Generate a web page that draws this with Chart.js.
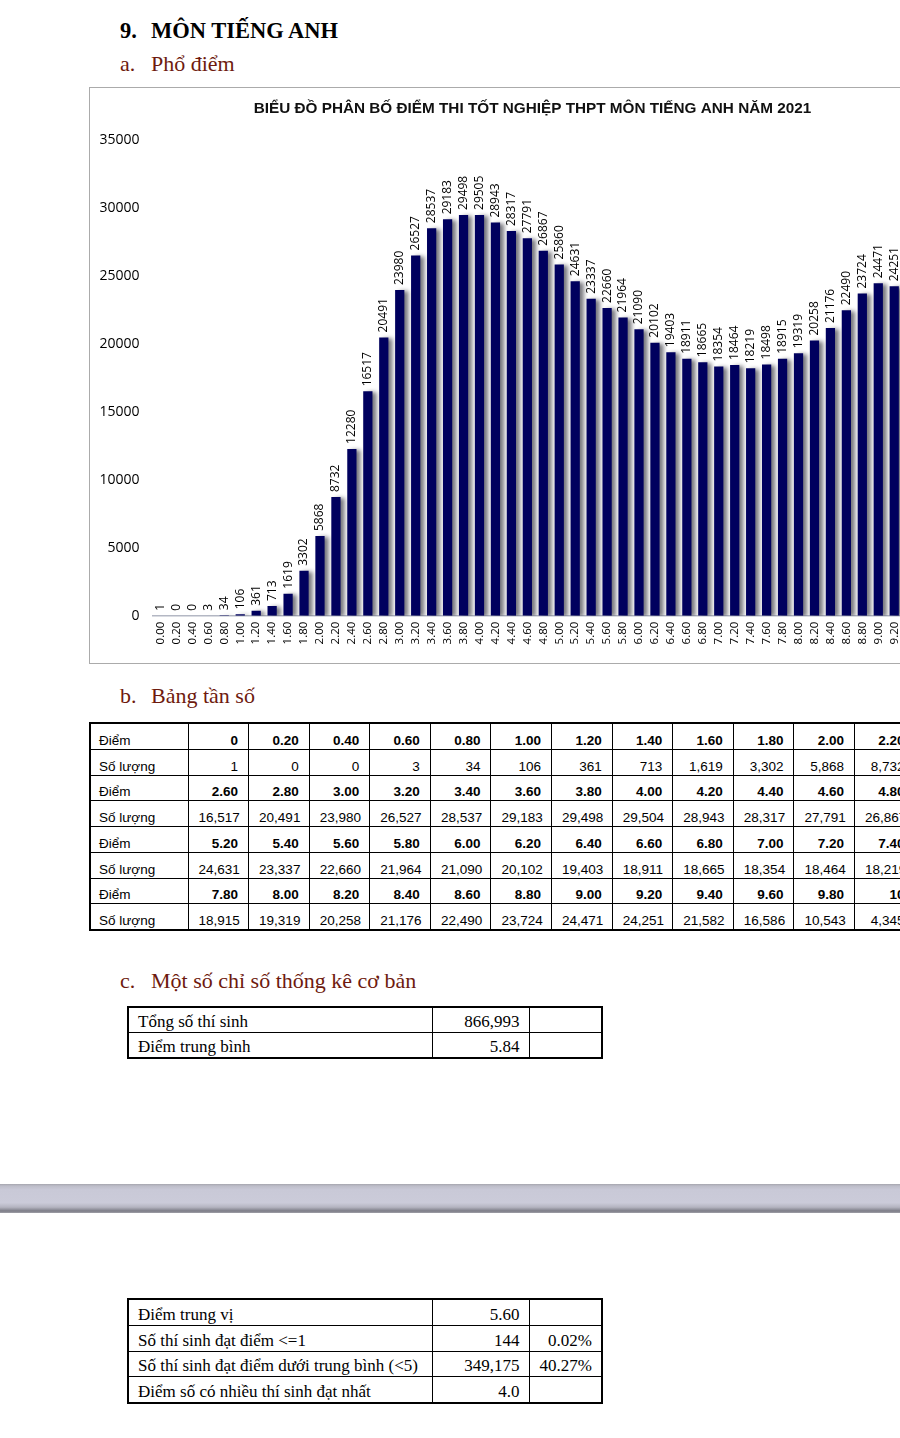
<!DOCTYPE html>
<html lang="vi">
<head>
<meta charset="utf-8">
<title>Môn Tiếng Anh - Phổ điểm 2021</title>
<script src="https://cdn.jsdelivr.net/npm/chart.js@4.4.1/dist/chart.umd.min.js"></script>
<style>
html, body { margin: 0; padding: 0; background: #fff; }
body {
    width: 900px; height: 1438px; overflow: hidden; position: relative;
    font-family: "Liberation Serif", "Times New Roman", serif;
}
.heading {
    position: absolute; left: 120px; margin: 0; white-space: nowrap;
    font-size: 22px; line-height: 26px; font-weight: normal; color: #6e1a0e;
}
.heading span { display: inline-block; width: 31px; }
.heading.main { top: 18px; font-size: 22.5px; font-weight: bold; color: #000; }
.chart-box {
    position: absolute; left: 89px; top: 87px; width: 892px; height: 577px;
    border: 1.5px solid #ababab; box-sizing: border-box; background: #fff;
}
.freq {
    position: absolute; left: 89px; top: 722px; width: 886px;
    border-collapse: collapse; table-layout: fixed; border: 2px solid #000;
    font-family: "Liberation Sans", Arial, sans-serif; font-size: 13.5px; color: #000;
}
.freq td {
    border: 1px solid #000; padding: 0 10px 0 10px; height: 24.75px;
    vertical-align: bottom; line-height: 17px; text-align: right; white-space: nowrap; overflow: hidden;
}
.freq td.lbl { text-align: left; padding-left: 8px; }
.freq tr.score td { font-weight: bold; }
.freq tr.score td.lbl { font-weight: normal; }
.stats {
    position: absolute; left: 127px; width: 474px;
    border-collapse: collapse; table-layout: fixed; border: 2px solid #000;
    font-family: "Liberation Serif", "Times New Roman", serif; font-size: 17px; color: #000;
}
.stats td {
    border: 1px solid #000; padding: 0 9px 0 9px; height: 24.8px;
    vertical-align: bottom; line-height: 20px; text-align: right; white-space: nowrap;
}
#statsTop td { height: 24.1px; }
.stats td:first-child { text-align: left; }
.band {
    position: absolute; left: 0; top: 1184px; width: 900px; height: 29px;
    background: linear-gradient(to bottom, #a6a6ae 0, #bdbdc9 2px, #c9c9d7 20%, #cbcbd9 65%, #b4b4c0 80%, #7c7c86 93%, #a0a0a8 100%);
}
</style>
</head>
<body>

<div class="heading main"><span>9.</span>MÔN TIẾNG ANH</div>
<div class="heading" style="top:51px"><span>a.</span>Phổ điểm</div>

<div class="chart-box"><canvas id="scoreChart"></canvas></div>

<div class="heading" style="top:683px"><span>b.</span>Bảng tần số</div>
<table class="freq" id="freqTable">
    <colgroup><col style="width:98px"></colgroup>
    <tbody></tbody>
</table>

<div class="heading" style="top:968px"><span>c.</span>Một số chỉ số thống kê cơ bản</div>
<table class="stats" id="statsTop" style="top:1006px">
    <colgroup><col style="width:304px"><col style="width:97px"><col style="width:73px"></colgroup>
    <tbody></tbody>
</table>

<div class="band"></div>

<table class="stats" id="statsBottom" style="top:1298px">
    <colgroup><col style="width:304px"><col style="width:97px"><col style="width:73px"></colgroup>
    <tbody></tbody>
</table>

<script>
// Điểm (trục x)
const scores = ['0.00', '0.20', '0.40', '0.60', '0.80', '1.00', '1.20', '1.40', '1.60', '1.80',
    '2.00', '2.20', '2.40', '2.60', '2.80', '3.00', '3.20', '3.40', '3.60', '3.80',
    '4.00', '4.20', '4.40', '4.60', '4.80', '5.00', '5.20', '5.40', '5.60', '5.80',
    '6.00', '6.20', '6.40', '6.60', '6.80', '7.00', '7.20', '7.40', '7.60', '7.80',
    '8.00', '8.20', '8.40', '8.60', '8.80', '9.00', '9.20', '9.40', '9.60', '9.80', '10.00'];

// Số lượng thí sinh theo từng mức điểm
const counts = [1, 0, 0, 3, 34, 106, 361, 713, 1619, 3302,
    5868, 8732, 12280, 16517, 20491, 23980, 26527, 28537, 29183, 29498,
    29505, 28943, 28317, 27791, 26867, 25860, 24631, 23337, 22660, 21964,
    21090, 20102, 19403, 18911, 18665, 18354, 18464, 18219, 18498, 18915,
    19319, 20258, 21176, 22490, 23724, 24471, 24251, 21582, 16586, 10543, 4345];

// bảng tần số ghi 29,504 ở mức 4.00
const tableCounts = counts.slice();
tableCounts[20] = 29504;

const yMax = 35000;
const yStep = 5000;

const statsTop = [
    ['Tổng số thí sinh', '866,993', ''],
    ['Điểm trung bình', '5.84', '']
];
const statsBottom = [
    ['Điểm trung vị', '5.60', ''],
    ['Số thí sinh đạt điểm <=1', '144', '0.02%'],
    ['Số thí sinh đạt điểm dưới trung bình (<5)', '349,175', '40.27%'],
    ['Điểm số có nhiều thí sinh đạt nhất', '4.0', '']
];

// Bảng tần số
const perRow = 13;
const freqBody = document.querySelector('#freqTable tbody');
const colgroup = document.querySelector('#freqTable colgroup');
for (let i = 0; i < perRow; i++) {
    const col = document.createElement('col');
    col.style.width = '60.6px';
    colgroup.appendChild(col);
}
function tableScore(s) {
    if (s === '0.00') return '0';
    if (s === '10.00') return '10';
    return s;
}
for (let start = 0; start < scores.length; start += perRow) {
    const rScore = document.createElement('tr');
    const rCount = document.createElement('tr');
    rScore.className = 'score';
    rScore.innerHTML = '<td class="lbl">Điểm</td>';
    rCount.innerHTML = '<td class="lbl">Số lượng</td>';
    for (let k = start; k < start + perRow; k++) {
        const a = document.createElement('td');
        const b = document.createElement('td');
        if (k < scores.length) {
            a.textContent = tableScore(scores[k]);
            b.textContent = tableCounts[k].toLocaleString('en-US');
        }
        rScore.appendChild(a);
        rCount.appendChild(b);
    }
    freqBody.appendChild(rScore);
    freqBody.appendChild(rCount);
}

// Bảng chỉ số thống kê
function fillStats(id, rows) {
    const body = document.querySelector('#' + id + ' tbody');
    rows.forEach(r => {
        const tr = document.createElement('tr');
        r.forEach(v => {
            const td = document.createElement('td');
            td.textContent = v;
            tr.appendChild(td);
        });
        body.appendChild(tr);
    });
}
fillStats('statsTop', statsTop);
fillStats('statsBottom', statsBottom);

// Bóng đổ cho cột
const barShadow = {
    id: 'barShadow',
    beforeDatasetsDraw(chart) {
        const c = chart.ctx;
        c.save();
        c.shadowColor = 'rgba(30, 30, 40, 0.6)';
        c.shadowBlur = 4;
        c.shadowOffsetX = 4;
        c.shadowOffsetY = 1;
    },
    afterDatasetsDraw(chart) {
        chart.ctx.restore();
    }
};

// Nhãn giá trị xoay dọc trên đầu cột
const barValues = {
    id: 'barValues',
    afterDraw(chart) {
        const c = chart.ctx;
        const meta = chart.getDatasetMeta(0);
        c.save();
        c.font = '12px "Open Sans", "DejaVu Sans", sans-serif';
        c.fillStyle = '#000';
        c.textAlign = 'left';
        c.textBaseline = 'middle';
        meta.data.forEach((bar, i) => {
            c.save();
            c.translate(bar.x, bar.y - 5);
            c.rotate(-Math.PI / 2);
            c.fillText(String(counts[i]), 0, 0);
            c.restore();
        });
        c.restore();
    }
};

const ctx = document.getElementById('scoreChart').getContext('2d');
const scoreChart = new Chart(ctx, {
    type: 'bar',
    data: {
        labels: scores,
        datasets: [{
            data: counts,
            backgroundColor: '#00005e',
            barPercentage: 0.58,
            categoryPercentage: 1
        }]
    },
    options: {
        responsive: true,
        maintainAspectRatio: false,
        animation: false,
        layout: { padding: { top: 6, left: 9, right: 14, bottom: 6 } },
        plugins: {
            legend: { display: false },
            tooltip: { enabled: false },
            title: {
                display: true,
                text: 'BIỂU ĐỒ PHÂN BỐ ĐIỂM THI TỐT NGHIỆP THPT MÔN TIẾNG ANH NĂM 2021',
                color: '#111',
                font: { family: '"Liberation Sans", Arial, sans-serif', size: 15.3, weight: 'bold' },
                padding: { top: 6, bottom: 22 }
            }
        },
        scales: {
            x: {
                grid: { display: false, drawTicks: false },
                border: { display: true, color: '#b4b8c4', width: 1.5 },
                ticks: {
                    autoSkip: false,
                    minRotation: 90,
                    maxRotation: 90,
                    padding: 6,
                    color: '#000',
                    font: { family: '"Open Sans", "DejaVu Sans", sans-serif', size: 11.5 }
                }
            },
            y: {
                min: 0,
                max: yMax,
                grid: { display: false, drawTicks: false },
                border: { display: false },
                afterFit(scale) { scale.width = 53.5; },
                ticks: {
                    stepSize: yStep,
                    padding: 13,
                    color: '#000',
                    font: { family: '"Open Sans", "DejaVu Sans", sans-serif', size: 14 },
                    callback: v => String(v)
                }
            }
        }
    },
    plugins: [barShadow, barValues]
});
</script>
</body>
</html>
